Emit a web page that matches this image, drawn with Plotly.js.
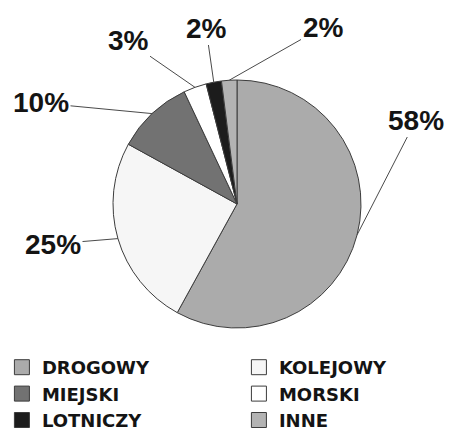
<!DOCTYPE html>
<html>
<head>
<meta charset="utf-8">
<script src="https://cdn.plot.ly/plotly-3.0.1.min.js"></script>
<style>
html,body{margin:0;padding:0;overflow:hidden;background:#fff;}
#chart{width:480px;height:431px;}
path.legendpie{d:path('M7.5,7.5H-7.5V-7.5H7.5Z');}
</style>
</head>
<body>
<div id="chart"></div>
<script>
// ---- data ----
const categories = ['DROGOWY', 'KOLEJOWY', 'MIEJSKI', 'MORSKI', 'LOTNICZY', 'INNE'];
const shares = [58, 25, 10, 3, 2, 2];
const sliceColors = ['#ababab', '#f6f6f6', '#727272', '#ffffff', '#1c1c1c', '#b3b3b3'];

// ---- layout geometry (pixels) ----
const W = 480, H = 431;
const cx = 237, cy = 204, R = 124;
// label centres for each slice (pixels)
const labelPos = [[416, 120], [53, 244], [41, 103], [128, 41], [206, 28], [323, 27]];

const domX = [(cx - 150) / W, (cx + 150) / W];
const domY = [(H - (cy + R)) / H, (H - (cy - R)) / H];

const total = shares.reduce((a, b) => a + b, 0);
let cum = 0;
const annotations = shares.map((v, i) => {
  const mid = (cum + v / 2) / total * 2 * Math.PI;
  cum += v;
  const px = cx + R * Math.sin(mid);
  const py = cy - R * Math.cos(mid);
  return {
    x: px / W, y: 1 - py / H, xref: 'paper', yref: 'paper',
    text: v + '%',
    showarrow: true, arrowhead: 0, arrowwidth: 1, arrowcolor: '#4a4a4a',
    standoff: 0, startstandoff: 0,
    ax: labelPos[i][0] - px, ay: labelPos[i][1] - py,
    font: {family: 'Liberation Sans, Arial, sans-serif', size: 28, weight: 'bold', color: '#141414'}
  };
});

const trace = {
  type: 'pie',
  labels: categories,
  values: shares,
  sort: false,
  direction: 'clockwise',
  rotation: 0,
  textinfo: 'none',
  hoverinfo: 'label+percent',
  marker: {colors: sliceColors, line: {color: '#3c3c3c', width: 1}},
  domain: {x: domX, y: domY}
};

const layout = {
  width: W, height: H, autosize: false,
  margin: {l: 0, r: 0, t: 0, b: 0, autoexpand: false},
  paper_bgcolor: '#ffffff',
  showlegend: true,
  legend: {
    orientation: 'h', x: 0.004, xanchor: 'left', y: 1 - 349 / H, yanchor: 'top',
    entrywidth: 192, entrywidthmode: 'pixels',
    font: {family: 'DejaVu Sans, sans-serif', size: 18, weight: 'bold', color: '#141414'},
    traceorder: 'normal'
  },
  annotations: annotations
};

Plotly.newPlot('chart', [trace], layout, {displayModeBar: false, staticPlot: true});
</script>
</body>
</html>
